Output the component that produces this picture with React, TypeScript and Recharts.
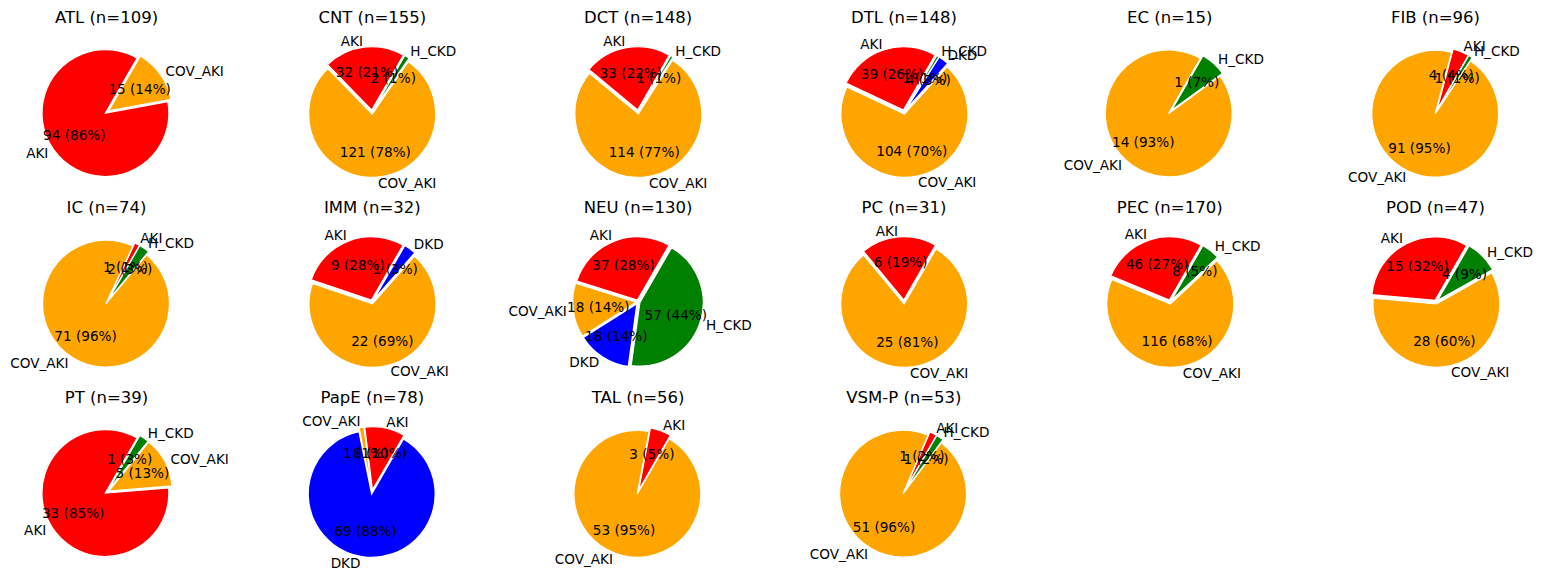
import React from 'react';
import { PieChart, Pie, Cell, Sector } from 'recharts';

// Cell types and their per-condition counts (same order in every list)
const CELL_TYPES = [
  'ATL', 'CNT', 'DCT', 'DTL', 'EC', 'FIB',
  'IC', 'IMM', 'NEU', 'PC', 'PEC', 'POD',
  'PT', 'PapE', 'TAL', 'VSM-P',
];
const CONDITIONS = ['AKI', 'COV_AKI', 'DKD', 'H_CKD'];
const AKI_COUNTS = [94, 32, 33, 39, 0, 4, 1, 9, 37, 6, 46, 15, 33, 8, 3, 1];
const COV_AKI_COUNTS = [15, 121, 114, 104, 14, 91, 71, 22, 18, 25, 116, 28, 5, 1, 53, 51];
const DKD_COUNTS = [0, 0, 0, 4, 0, 0, 0, 1, 18, 0, 0, 0, 0, 69, 0, 0];
const H_CKD_COUNTS = [0, 2, 1, 1, 1, 1, 2, 0, 57, 0, 8, 4, 1, 0, 0, 1];

const CONDITION_COLORS: Record<string, string> = {
  AKI: '#ff0000',
  COV_AKI: '#ffa500',
  DKD: '#0000ff',
  H_CKD: '#008000',
};

const COLS = 6;
const COL_X0 = 106.5;
const COL_STEP = 265.8;
const ROW_STEP = 190;
const PANEL_W = 260;
const PANEL_H = 205;
const PIE_CY = 112;
const RADIUS = 63.5;
const EXPLODE = 0.03;
const RAD = Math.PI / 180;
const FONT = '"DejaVu Sans", sans-serif';

const countsFor = (i: number) => [AKI_COUNTS[i], COV_AKI_COUNTS[i], DKD_COUNTS[i], H_CKD_COUNTS[i]];

// every wedge is pushed out a little along its bisector
function ExplodedSlice(props: any) {
  const { cx, cy, midAngle, innerRadius, outerRadius, startAngle, endAngle, fill } = props;
  const d = EXPLODE * outerRadius;
  return (
    <Sector
      cx={cx + d * Math.cos(-midAngle * RAD)}
      cy={cy + d * Math.sin(-midAngle * RAD)}
      innerRadius={innerRadius}
      outerRadius={outerRadius}
      startAngle={startAngle}
      endAngle={endAngle}
      fill={fill}
      stroke="#ffffff"
      strokeWidth={1.3}
    />
  );
}

function SliceLabel(props: any) {
  const { cx, cy, midAngle, outerRadius, value, percent, name } = props;
  const cos = Math.cos(-midAngle * RAD);
  const sin = Math.sin(-midAngle * RAD);
  const ox = cx + EXPLODE * outerRadius * cos;
  const oy = cy + EXPLODE * outerRadius * sin;
  return (
    <g fontFamily={FONT} fontSize={13.6} fill="#000">
      <text
        x={ox + 1.1 * outerRadius * cos}
        y={oy + 1.1 * outerRadius * sin}
        textAnchor={cos > 0 ? 'start' : 'end'}
        dominantBaseline="central"
      >
        {name}
      </text>
      <text
        x={ox + 0.6 * outerRadius * cos}
        y={oy + 0.6 * outerRadius * sin}
        textAnchor="middle"
        dominantBaseline="central"
      >
        {`${value} (${Math.round(percent * 100)}%)`}
      </text>
    </g>
  );
}

function CellTypePie({ index }: { index: number }) {
  const counts = countsFor(index);
  const data = CONDITIONS.map((name, k) => ({ name, value: counts[k] })).filter((d) => d.value > 0);
  const n = counts.reduce((a, b) => a + b, 0);
  const col = index % COLS;
  const row = Math.floor(index / COLS);
  const left = COL_X0 + col * COL_STEP - PANEL_W / 2;
  const top = row * ROW_STEP;

  return (
    <div style={{ position: 'absolute', left, top, width: PANEL_W, height: PANEL_H }}>
      <div
        style={{
          position: 'absolute',
          left: 0,
          top: 8,
          width: PANEL_W,
          textAlign: 'center',
          fontFamily: FONT,
          fontSize: 16.5,
          lineHeight: '20px',
          color: '#000',
        }}
      >
        {`${CELL_TYPES[index]} (n=${n})`}
      </div>
      <PieChart width={PANEL_W} height={PANEL_H} margin={{ top: 0, right: 0, bottom: 0, left: 0 }}>
        <Pie
          data={data}
          dataKey="value"
          nameKey="name"
          cx={PANEL_W / 2}
          cy={PIE_CY}
          outerRadius={RADIUS}
          startAngle={60}
          endAngle={420}
          stroke="#ffffff"
          labelLine={false}
          label={SliceLabel}
          shape={ExplodedSlice}
          activeShape={ExplodedSlice}
          inactiveShape={ExplodedSlice}
          isAnimationActive={false}
        >
          {data.map((entry) => (
            <Cell key={entry.name} fill={CONDITION_COLORS[entry.name]} />
          ))}
        </Pie>
      </PieChart>
    </div>
  );
}

export default function App() {
  return (
    <div style={{ position: 'absolute', left: 0, top: 0, width: 1544, height: 582, background: '#ffffff' }}>
      {CELL_TYPES.map((_, i) => (
        <CellTypePie key={CELL_TYPES[i]} index={i} />
      ))}
    </div>
  );
}
